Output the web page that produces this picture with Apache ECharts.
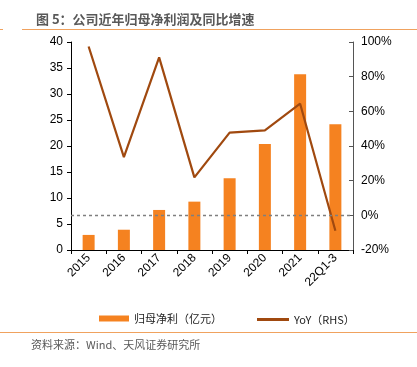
<!DOCTYPE html>
<html><head><meta charset="utf-8">
<script src="https://cdn.jsdelivr.net/npm/echarts@6/dist/echarts.min.js"></script>
<style>html,body{margin:0;padding:0;background:#fff}#c{width:417px;height:367px}</style>
</head><body><div id="c"></div>
<script>
const categories = ['2015','2016','2017','2018','2019','2020','2021','22Q1-3'];
const profit = [2.9, 3.9, 7.7, 9.3, 13.8, 20.4, 33.8, 24.2];
const yoy = [97.4, 33.6, 91.1, 21.9, 47.7, 49.0, 64.4, -8.9];
const leftTicks = [0, 40, 5];
const rightTicks = [-20, 100, 20];

const chart = echarts.init(document.getElementById('c'), null, {renderer:'canvas'});
chart.setOption({
  animation: false,
  backgroundColor: '#fff',
  title: {
    text: '图 5：公司近年归母净利润及同比增速',
    left: 31, top: 8,
    textStyle: {fontFamily: 'Noto Sans CJK SC', fontSize: 13, fontWeight: 'bold', color: '#595959'}
  },
  graphic: [
    {type:'line', shape:{x1:22,y1:29.5,x2:417,y2:29.5}, style:{stroke:'#F0A25E', lineWidth:1}},
    {type:'line', shape:{x1:0,y1:29.5,x2:3,y2:29.5}, style:{stroke:'#F0A25E', lineWidth:1}},
    {type:'line', shape:{x1:0,y1:332.5,x2:417,y2:332.5}, style:{stroke:'#F0A25E', lineWidth:1}},
    {type:'text', left: 31, top: 339, style:{text:'资料来源：Wind、天风证券研究所', font:'11px "Noto Sans CJK SC"', fill:'#595959'}}
  ],
  legend: [
    {data:[{name:'归母净利（亿元）', icon:'rect'}], left: 94, top: 308, itemWidth: 30, itemHeight: 6, itemGap: 6,
     textStyle:{fontFamily:'Noto Sans CJK SC', fontSize:11, color:'#222'}},
    {data:[{name:'YoY（RHS）', icon:'rect'}], left: 252, top: 309, itemWidth: 32, itemHeight: 3, itemGap: 4,
     textStyle:{fontFamily:'Noto Sans CJK SC', fontSize:11, color:'#222'}}
  ],
  grid: {left: 71, right: 64, top: 42, bottom: 117, containLabel: false},
  xAxis: {
    type: 'category', data: categories, boundaryGap: true,
    axisLine: {lineStyle:{color:'#000', width:1}},
    axisTick: {show:true, alignWithLabel:false, length:4, lineStyle:{color:'#000'}},
    axisLabel: {rotate: 45, fontSize: 12, color: '#000', fontFamily: 'Liberation Sans', margin: 6}
  },
  yAxis: [
    {type:'value', min: leftTicks[0], max: leftTicks[1], interval: leftTicks[2],
     axisLine:{show:true, lineStyle:{color:'#000'}},
     axisTick:{show:true, length:4, lineStyle:{color:'#000'}},
     splitLine:{show:false},
     axisLabel:{fontSize:12, color:'#000', fontFamily:'Liberation Sans', margin:8}},
    {type:'value', min: rightTicks[0], max: rightTicks[1], interval: rightTicks[2],
     axisLine:{show:true, lineStyle:{color:'#555'}},
     axisTick:{show:true, inside:true, length:4, lineStyle:{color:'#555'}},
     splitLine:{show:false},
     axisLabel:{fontSize:12, color:'#000', fontFamily:'Liberation Sans', margin:8, formatter: v => v + '%'}}
  ],
  series: [
    {name:'归母净利（亿元）', type:'bar', data: profit, yAxisIndex:0, barWidth: 12,
     itemStyle:{color:'#F58220'}},
    {name:'YoY（RHS）', type:'line', data: yoy, yAxisIndex:1, symbol:'none',
     lineStyle:{color:'#A0490F', width:2.2}, itemStyle:{color:'#A0490F'},
     markLine:{silent:true, symbol:['none','none'], label:{show:false},
       lineStyle:{type:[3,3], color:'#7f7f7f', width:1.3},
       data:[{yAxis:0}]}}
  ]
});
</script></body></html>
